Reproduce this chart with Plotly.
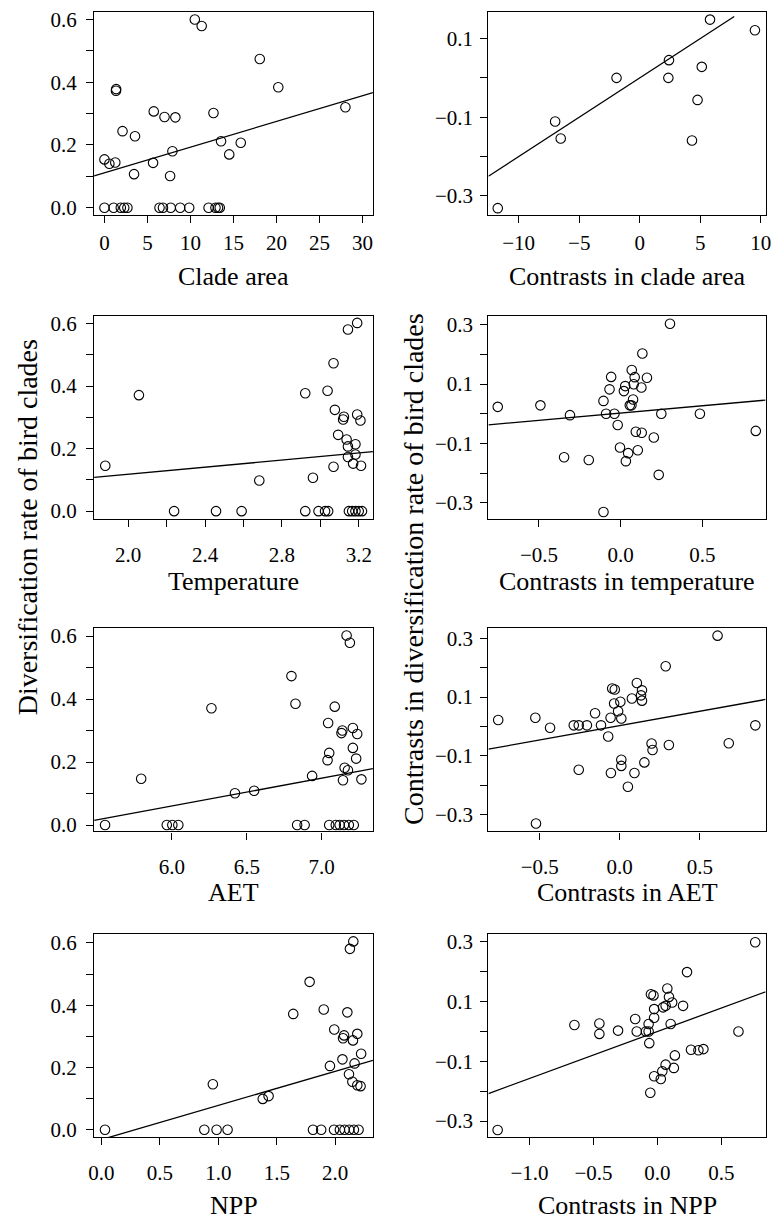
import plotly.graph_objects as go

W, H = 777, 1223

# ---------------- data ----------------
# Panel 1: Clade area vs diversification rate
clade_area = [0, 0.57, 1.26, 1.34, 1.36, 2.1, 3.55, 3.44, 5.73, 5.65, 6.98, 8.24, 7.9, 7.63,
              10.5, 11.3, 12.67, 13.55, 14.5, 15.84, 18.05, 20.2, 28.0,
              0, 1.07, 1.9, 2.3, 2.67, 6.4, 6.8, 7.7, 8.8, 9.85, 12.1, 12.9, 13.2, 13.4]
clade_div = [0.154, 0.14, 0.144, 0.373, 0.378, 0.244, 0.228, 0.107, 0.307, 0.143, 0.289, 0.288, 0.18, 0.101,
             0.6, 0.579, 0.302, 0.212, 0.17, 0.207, 0.474, 0.384, 0.32,
             0, 0, 0, 0, 0, 0, 0, 0, 0, 0, 0, 0, 0, 0]

# Panel 2: contrasts in clade area
c_clade_x = [-11.73, -6.99, -6.53, -1.92, 2.41, 2.36, 5.12, 4.77, 4.31, 5.8, 9.51]
c_clade_y = [-0.331, -0.111, -0.154, 0.0, 0.045, 0.0, 0.028, -0.056, -0.159, 0.148, 0.121]

# Panel 3: temperature
temp_x = [1.881, 2.056, 2.682, 2.921, 2.961, 3.191, 3.143, 3.068, 3.037, 3.075, 3.122, 3.118,
          3.191, 3.208, 3.092, 3.136, 3.182, 3.143, 3.182, 3.143, 3.17, 3.211, 3.068,
          2.239, 2.457, 2.59, 2.921, 2.99, 3.024, 3.04, 3.148, 3.165, 3.182, 3.199, 3.216]
temp_y = [0.145, 0.371, 0.098, 0.377, 0.107, 0.602, 0.581, 0.473, 0.385, 0.324, 0.302, 0.293,
          0.309, 0.290, 0.244, 0.229, 0.214, 0.207, 0.181, 0.173, 0.152, 0.145, 0.142,
          0, 0, 0, 0, 0, 0, 0, 0, 0, 0, 0, 0]

# Panel 4: contrasts in temperature
c_temp_x = [-0.752, -0.491, -0.31, -0.346, -0.195, -0.105, -0.089, -0.058, -0.068, -0.038, -0.018, -0.004,
            0.02, 0.028, 0.046, 0.032, 0.056, 0.066, 0.068, 0.086, 0.08, 0.076, 0.093, 0.129, 0.105,
            0.127, 0.133, 0.161, 0.203, 0.233, 0.249, 0.302, 0.485, 0.827, -0.105]
c_temp_y = [0.023, 0.028, -0.005, -0.147, -0.156, 0.043, 0.0, 0.124, 0.082, 0.0, -0.038, -0.114,
            0.076, 0.093, -0.133, -0.160, 0.028, 0.028, 0.147, 0.123, 0.099, 0.048, -0.061, -0.064, -0.123,
            0.088, 0.203, 0.121, -0.080, -0.206, 0.0, 0.303, 0.0, -0.058, -0.331]

# Panel 5: AET
aet_x = [5.795, 6.264, 6.421, 6.549, 6.798, 6.825, 6.936, 7.166, 7.188, 7.087, 7.043, 7.138, 7.132,
         7.208, 7.237, 7.05, 7.039, 7.208, 7.23, 7.153, 7.175, 7.142, 7.265,
         5.554, 5.966, 6.003, 6.043, 6.836, 6.886, 7.05, 7.094, 7.12, 7.149, 7.181, 7.214]
aet_y = [0.147, 0.371, 0.101, 0.109, 0.473, 0.385, 0.156, 0.602, 0.579, 0.376, 0.324, 0.300, 0.292,
         0.308, 0.289, 0.229, 0.206, 0.245, 0.211, 0.182, 0.174, 0.142, 0.145,
         0, 0, 0, 0, 0, 0, 0, 0, 0, 0, 0, 0]

# Panel 6: contrasts in AET
c_aet_x = [-0.759, -0.527, -0.435, -0.256, -0.287, -0.256, -0.205, -0.154, -0.117, -0.072, -0.055, -0.057,
           -0.047, -0.031, -0.035, -0.010, 0.004, 0.010, 0.010, 0.010, 0.051, 0.076, 0.092, 0.107, 0.139,
           0.133, 0.139, 0.154, 0.199, 0.205, 0.287, 0.307, 0.611, 0.681, 0.847, -0.523]
c_aet_y = [0.022, 0.030, -0.004, -0.147, 0.004, 0.004, 0.004, 0.045, 0.004, -0.034, -0.158, 0.030,
           0.129, 0.126, 0.078, 0.052, 0.084, 0.027, -0.113, -0.134, -0.205, 0.095, -0.158, 0.148, 0.123,
           0.106, 0.088, -0.122, -0.058, -0.080, 0.205, -0.063, 0.309, -0.057, 0.004, -0.330]

# Panel 7: NPP
npp_x = [0.953, 1.38, 1.43, 2.155, 2.126, 1.781, 1.641, 1.902, 2.104, 1.992, 2.076, 2.067, 2.189, 2.152,
         2.222, 2.062, 1.955, 2.166, 2.118, 2.147, 2.189, 2.217,
         0.03, 0.88, 0.985, 1.079, 1.81, 1.88, 1.99, 2.04, 2.08, 2.12, 2.16, 2.20]
npp_y = [0.146, 0.099, 0.108, 0.605, 0.581, 0.475, 0.372, 0.386, 0.377, 0.322, 0.303, 0.294, 0.308, 0.287,
         0.244, 0.226, 0.205, 0.213, 0.178, 0.154, 0.143, 0.140,
         0, 0, 0, 0, 0, 0, 0, 0, 0, 0, 0, 0]

# Panel 8: contrasts in NPP
c_npp_x = [0.764, 0.231, 0.077, -0.051, -0.031, 0.090, 0.115, 0.044, 0.064, -0.026, 0.2, -0.026, -0.174,
           0.103, -0.069, -0.649, -0.454, -0.454, -0.308, -0.162, -0.09, -0.069, 0.633, -0.064, 0.262,
           0.32, 0.359, 0.136, 0.064, 0.128, 0.038, -0.026, 0.026, -0.056, -1.249]
c_npp_y = [0.299, 0.199, 0.144, 0.125, 0.121, 0.116, 0.097, 0.081, 0.086, 0.075, 0.086, 0.046, 0.042,
           0.025, 0.025, 0.022, 0.027, -0.008, 0.003, 0.0, 0.0, 0.0, 0.0, -0.039, -0.061,
           -0.063, -0.059, -0.080, -0.111, -0.122, -0.133, -0.150, -0.159, -0.205, -0.330]

# Fitted regression lines (intercept, slope, x-start, x-end)
fit_intercept = [0.111, 0.0, 0.0045, 0.0022, -0.4673, 0.003, -0.0316, 0.0]
fit_slope = [0.0082, 0.02, 0.0567, 0.0491, 0.088, 0.0976, 0.1096, 0.1575]
fit_x0 = [-1.2, -12.5, 1.823, -0.809, 5.481, -0.820, -0.063, -1.321]
fit_x1 = [31.2, 7.8, 3.273, 0.887, 7.342, 0.911, 2.323, 0.845]

x_titles = ["Clade area", "Contrasts in clade area", "Temperature", "Contrasts in temperature",
            "AET", "Contrasts in AET", "NPP", "Contrasts in NPP"]
y_title_left = "Diversification rate of bird clades"
y_title_right = "Contrasts in diversification rate of bird clades"

M = "\u2212"
left_yticks = [0, 0.1, 0.2, 0.3, 0.4, 0.5, 0.6]
left_yticktext = ["0.0", "", "0.2", "", "0.4", "", "0.6"]
right_yticks = [-0.3, -0.2, -0.1, 0, 0.1, 0.2, 0.3]
right_yticktext = [M + "0.3", "", M + "0.1", "", "0.1", "", "0.3"]
right1_yticks = [-0.3, -0.2, -0.1, 0, 0.1]
right1_yticktext = [M + "0.3", "", M + "0.1", "", "0.1"]

xticks = [
    [0, 5, 10, 15, 20, 25, 30],
    [-10, -5, 0, 5, 10],
    [2.0, 2.2, 2.4, 2.6, 2.8, 3.0, 3.2],
    [-0.5, 0, 0.5],
    [6.0, 6.5, 7.0],
    [-0.5, 0, 0.5],
    [0, 0.5, 1.0, 1.5, 2.0],
    [-1.0, -0.5, 0, 0.5],
]
xticktext = [
    ["0", "5", "10", "15", "20", "25", "30"],
    [M + "10", M + "5", "0", "5", "10"],
    ["2.0", "", "2.4", "", "2.8", "", "3.2"],
    [M + "0.5", "0.0", "0.5"],
    ["6.0", "6.5", "7.0"],
    [M + "0.5", "0.0", "0.5"],
    ["0.0", "0.5", "1.0", "1.5", "2.0"],
    [M + "1.0", M + "0.5", "0.0", "0.5"],
]

xs = [clade_area, c_clade_x, temp_x, c_temp_x, aet_x, c_aet_x, npp_x, c_npp_x]
ys = [clade_div, c_clade_y, temp_y, c_temp_y, aet_y, c_aet_y, npp_y, c_npp_y]

# ---------------- layout geometry (pixels) ----------------
col_px = [(89.5, 372.7), (490.0, 771.5)]
row_px = [(8.0, 213.0), (314.3, 519.0), (629.5, 834.3), (938.0, 1142.5)]
x_ranges = [[-1.2, 31.2], [-12.5, 10.39], [1.823, 3.273], [-0.809, 0.887],
            [5.481, 7.342], [-0.820, 0.911], [-0.063, 2.323], [-1.321, 0.845]]
y_ranges = [[-0.024, 0.624], [-0.349, 0.1675], [-0.0244, 0.625], [-0.354, 0.330],
            [-0.0205, 0.6246], [-0.357, 0.3338], [-0.0239, 0.6277], [-0.354, 0.3256]]
xtitle_cy = [275, 275, 582, 582, 896, 896, 1211, 1211]
xlab_standoff = [1, 1, 10, 10, 9, 9, 9, 9]

FONT = "Liberation Serif"
fig = go.Figure()
layout = dict(width=W, height=H, margin=dict(l=0, r=0, t=0, b=0),
              paper_bgcolor="white", plot_bgcolor="white", showlegend=False,
              font=dict(family=FONT, color="black"))
annotations = []

for i in range(8):
    row, col = i // 2, i % 2
    l, r = col_px[col]
    t, b = row_px[row]
    n = i + 1
    xa = "x" if n == 1 else f"x{n}"
    ya = "y" if n == 1 else f"y{n}"
    fig.add_trace(go.Scatter(
        x=xs[i], y=ys[i], mode="markers", xaxis=xa, yaxis=ya,
        marker=dict(symbol="circle-open", size=9.5, color="black", line=dict(width=1.1, color="black")),
        cliponaxis=False, hoverinfo="skip"))
    lx = [fit_x0[i], fit_x1[i]]
    ly = [fit_intercept[i] + fit_slope[i] * v for v in lx]
    fig.add_trace(go.Scatter(x=lx, y=ly, mode="lines", xaxis=xa, yaxis=ya,
                             line=dict(color="black", width=1.3), hoverinfo="skip"))
    if col == 0:
        yt, ytt = left_yticks, left_yticktext
    elif row == 0:
        yt, ytt = right1_yticks, right1_yticktext
    else:
        yt, ytt = right_yticks, right_yticktext
    common = dict(showline=True, mirror=True, linecolor="black", linewidth=1.3,
                  ticks="outside", ticklen=7, tickwidth=1.2, tickcolor="black",
                  ticklabeloverflow="allow",
                  showgrid=False, zeroline=False, tickfont=dict(family=FONT, size=21, color="black"))
    layout["xaxis" if n == 1 else f"xaxis{n}"] = dict(
        domain=[l / W, r / W], range=x_ranges[i], anchor=ya,
        tickmode="array", tickvals=xticks[i], ticktext=xticktext[i],
        ticklabelstandoff=xlab_standoff[i], **common)
    layout["yaxis" if n == 1 else f"yaxis{n}"] = dict(
        domain=[1 - b / H, 1 - t / H], range=y_ranges[i], anchor=xa,
        tickmode="array", tickvals=yt, ticktext=ytt,
        ticklabelstandoff=5 if col == 0 else 3, **common)
    annotations.append(dict(text=x_titles[i], x=(l + r) / 2 / W, y=1 - xtitle_cy[i] / H,
                            xref="paper", yref="paper", xanchor="center", yanchor="middle",
                            showarrow=False, font=dict(family=FONT, size=26, color="black")))

annotations.append(dict(text=y_title_left, x=22 / W, y=1 - 528 / H, xref="paper", yref="paper",
                        xanchor="center", yanchor="middle", textangle=-90, showarrow=False,
                        font=dict(family=FONT, size=28, color="black")))
annotations.append(dict(text=y_title_right, x=414 / W, y=1 - 570 / H, xref="paper", yref="paper",
                        xanchor="center", yanchor="middle", textangle=-90, showarrow=False,
                        font=dict(family=FONT, size=28, color="black")))
layout["annotations"] = annotations
fig.update_layout(**layout)
fig.write_html("out.html")
